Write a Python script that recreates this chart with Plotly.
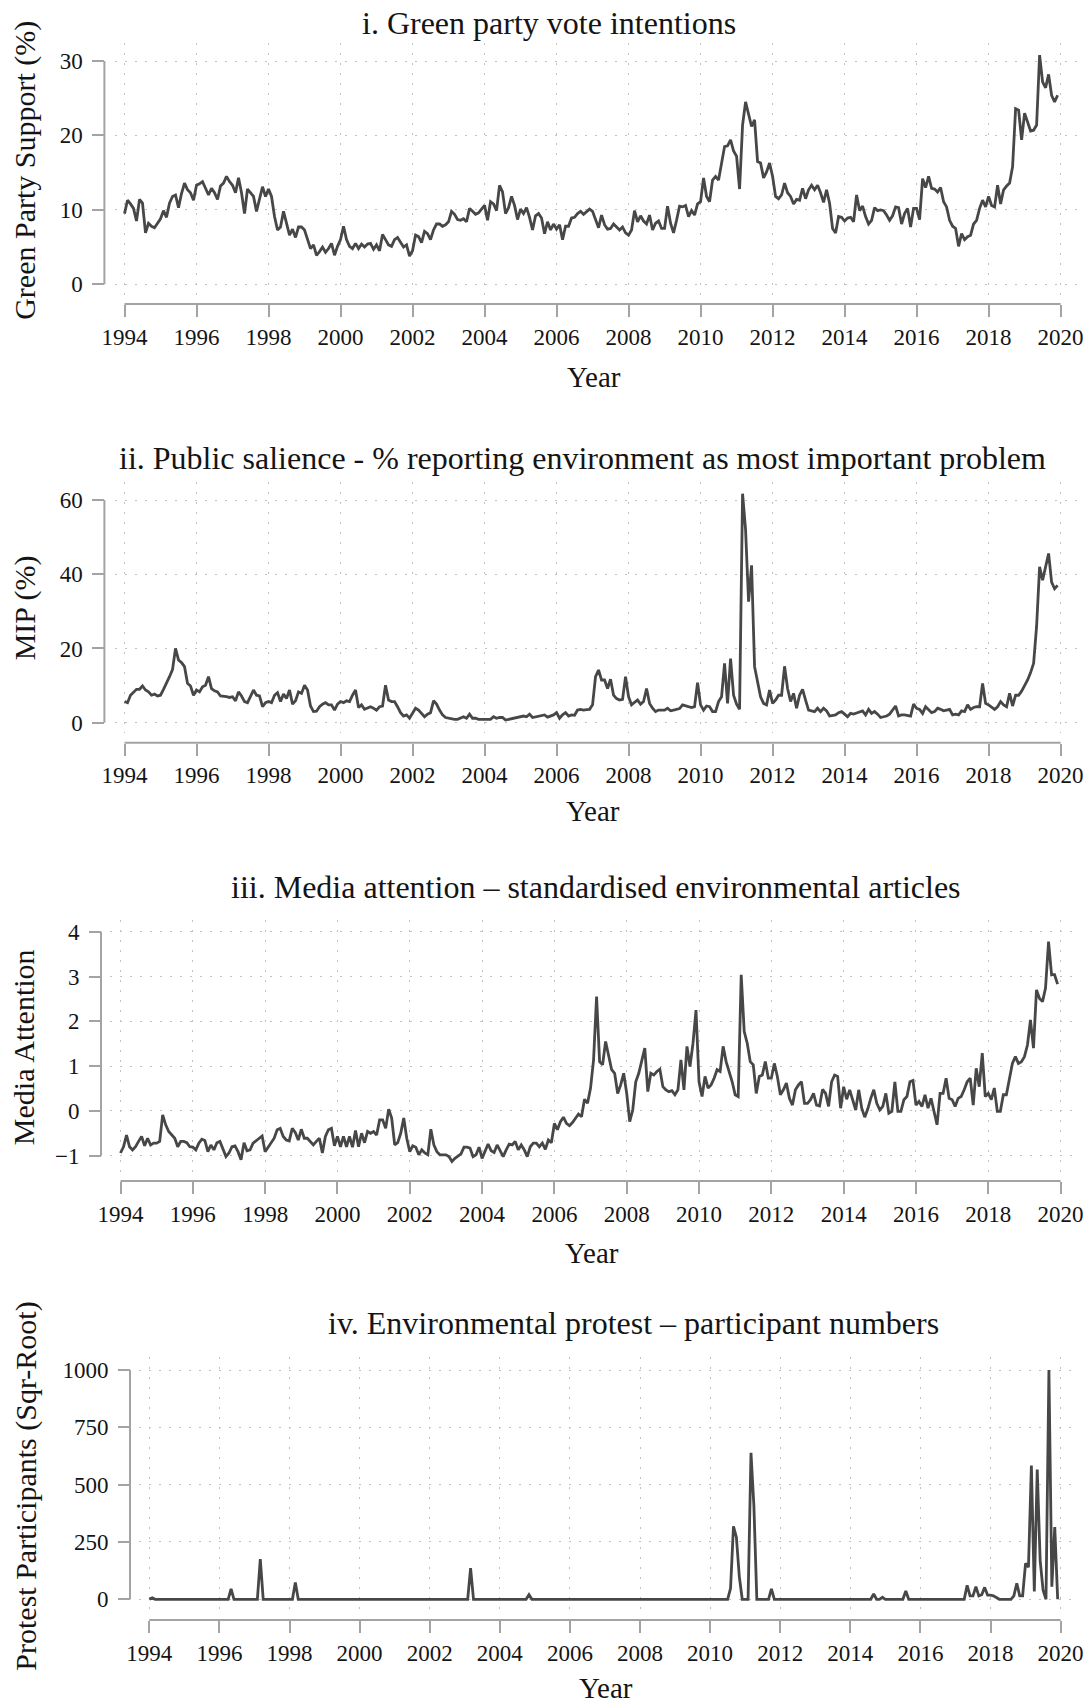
import plotly.graph_objects as go

W, H = 1092, 1707

# ---- monthly data, January 1994 to December 2019 (one row per year) ----
green_support = [
    9.5, 11.3, 10.8, 10.2, 8.5, 11.4, 10.9, 6.9, 8.2, 7.8, 7.6, 8.2,
    8.8, 9.9, 9.0, 10.9, 11.8, 12.0, 10.3, 12.2, 13.6, 12.7, 12.3, 11.3,
    13.3, 13.5, 13.8, 12.9, 12.0, 12.9, 12.3, 11.4, 13.2, 13.6, 14.5, 13.8,
    13.3, 12.3, 14.3, 12.3, 9.5, 12.8, 12.3, 11.8, 9.8, 11.4, 13.1, 11.8,
    12.8, 11.8, 9.1, 7.3, 7.7, 9.8, 8.3, 6.6, 7.4, 6.3, 7.7, 7.7,
    7.3, 6.0, 4.8, 5.3, 3.9, 4.4, 5.0, 4.3, 4.8, 5.5, 3.9, 5.1,
    6.0, 7.8, 6.0, 5.1, 4.8, 5.5, 4.8, 5.4, 5.0, 5.4, 5.5, 4.7,
    5.3, 4.5, 6.7, 6.0, 5.3, 5.1, 6.0, 6.3, 5.6, 5.0, 5.3, 3.8,
    4.5, 6.6, 6.4, 5.6, 7.1, 6.8, 6.0, 7.3, 8.1, 8.1, 7.8, 8.0,
    8.4, 9.8, 9.4, 8.7, 8.6, 8.8, 8.4, 10.2, 9.8, 9.4, 9.6, 10.1,
    10.6, 8.6, 11.1, 10.8, 9.9, 13.3, 12.4, 9.5, 10.3, 11.8, 10.6, 8.7,
    10.1, 9.5, 10.3, 9.0, 7.3, 9.2, 9.5, 8.9, 6.8, 8.4, 7.3, 8.1,
    7.4, 8.0, 6.0, 7.8, 7.8, 8.9, 9.0, 9.5, 9.8, 9.4, 9.8, 10.1,
    9.8, 8.7, 7.6, 9.3, 8.0, 7.4, 7.5, 8.1, 7.7, 7.3, 7.7, 6.9,
    6.6, 7.3, 9.9, 8.4, 9.2, 8.5, 8.1, 9.3, 7.3, 8.2, 8.5, 7.5,
    7.5, 10.5, 8.2, 6.9, 8.6, 10.5, 10.4, 10.6, 9.1, 9.9, 9.3, 10.8,
    11.1, 14.3, 11.8, 11.1, 14.0, 14.5, 14.0, 16.0, 18.5, 18.6, 19.4, 17.9,
    17.2, 12.8, 21.4, 24.5, 22.7, 21.2, 22.1, 16.5, 16.3, 14.3, 15.1, 16.3,
    14.5, 11.8, 11.5, 12.0, 13.6, 12.3, 11.8, 10.8, 11.4, 11.3, 12.9, 11.5,
    12.7, 13.3, 12.7, 13.3, 12.3, 11.0, 12.7, 10.9, 7.5, 6.9, 9.1, 9.0,
    8.5, 8.9, 9.0, 8.4, 12.0, 9.9, 10.5, 9.1, 8.1, 8.6, 10.3, 9.9,
    10.0, 9.9, 9.3, 8.6, 9.2, 10.4, 10.3, 8.1, 9.5, 10.2, 7.7, 10.2,
    10.2, 8.7, 14.2, 13.0, 14.5, 12.9, 12.8, 12.4, 13.0, 11.1, 10.4, 8.6,
    7.8, 7.5, 5.1, 6.8, 6.0, 6.4, 6.6, 8.1, 8.6, 10.2, 11.3, 10.4,
    11.8, 10.6, 10.4, 13.3, 10.8, 12.7, 13.2, 13.6, 15.8, 23.6, 23.4, 19.4,
    23.0, 21.8, 20.6, 20.7, 21.4, 30.8, 27.2, 26.4, 28.2, 25.4, 24.5, 25.4,
]

mip_share = [
    5.7, 5.4, 7.4, 8.3, 9.0, 9.0, 9.9, 8.8, 8.3, 7.4, 7.7, 7.2,
    7.4, 9.0, 10.6, 12.4, 14.3, 20.0, 16.9, 16.2, 15.1, 10.6, 9.9, 7.4,
    8.8, 8.3, 9.7, 10.1, 12.4, 9.2, 8.6, 8.3, 7.2, 7.2, 7.0, 6.8,
    7.0, 5.9, 8.3, 7.2, 5.7, 5.4, 7.0, 8.8, 7.4, 7.2, 4.3, 5.4,
    5.7, 5.4, 7.4, 8.1, 5.7, 7.7, 6.5, 8.8, 5.0, 5.9, 8.3, 7.9,
    10.1, 8.8, 4.5, 3.0, 3.1, 4.3, 5.0, 5.4, 4.8, 4.8, 3.4, 5.0,
    5.7, 5.4, 5.9, 5.7, 7.4, 8.8, 4.1, 4.8, 3.6, 3.9, 4.3, 3.9,
    3.4, 4.3, 4.5, 10.1, 6.1, 5.7, 5.7, 4.3, 2.7, 1.8, 2.1, 1.2,
    2.5, 3.9, 3.4, 2.5, 1.6, 2.3, 2.7, 5.9, 5.0, 3.4, 2.1, 1.4,
    1.2, 1.2, 0.9, 0.9, 1.2, 1.6, 1.2, 2.3, 1.2, 1.2, 0.9, 0.9,
    0.7, 0.7, 0.9, 1.6, 1.2, 1.4, 1.4, 0.7, 0.9, 1.1, 1.2, 1.6,
    1.8, 1.8, 1.6, 2.3, 1.4, 1.6, 1.8, 2.1, 2.1, 1.5, 1.8, 2.1,
    2.7, 1.2, 2.1, 2.7, 1.8, 2.1, 2.0, 3.4, 3.6, 3.4, 3.5, 3.6,
    4.8, 12.4, 14.2, 11.5, 11.5, 9.2, 11.7, 7.4, 6.5, 6.1, 6.3, 12.4,
    7.0, 4.8, 5.5, 6.1, 5.0, 5.7, 9.2, 5.2, 3.9, 3.0, 3.4, 3.4,
    3.4, 3.9, 3.2, 3.4, 3.6, 3.8, 4.8, 4.5, 4.3, 4.1, 4.3, 10.8,
    4.8, 3.4, 4.5, 4.3, 3.0, 3.0, 5.7, 7.0, 16.0, 5.2, 17.3, 7.4,
    5.0, 3.6, 61.7, 52.0, 32.6, 42.4, 15.1, 10.6, 7.0, 5.2, 4.8, 8.8,
    5.2, 6.1, 7.4, 7.4, 15.2, 9.2, 5.7, 7.9, 3.9, 7.4, 9.0, 6.1,
    3.4, 3.2, 3.0, 3.9, 3.0, 3.9, 3.2, 1.8, 2.0, 2.1, 2.7, 3.0,
    2.3, 1.6, 2.5, 2.3, 2.6, 3.0, 3.2, 2.1, 3.6, 2.5, 3.0, 2.3,
    1.4, 1.6, 1.8, 2.3, 3.4, 4.5, 1.8, 2.1, 2.1, 2.0, 1.8, 5.0,
    3.9, 3.6, 2.5, 4.3, 3.4, 2.7, 3.0, 3.9, 3.6, 3.2, 3.4, 3.6,
    2.1, 2.3, 2.1, 3.2, 3.0, 4.8, 3.6, 4.1, 4.3, 4.3, 10.6, 5.2,
    4.8, 4.1, 3.6, 4.3, 5.7, 4.8, 4.3, 7.9, 4.5, 7.4, 7.4, 8.5,
    10.0, 11.5, 13.5, 16.0, 26.0, 42.0, 38.4, 42.0, 45.6, 37.9, 36.1, 37.0,
]

media_attention = [
    -0.94, -0.80, -0.54, -0.80, -0.87, -0.80, -0.68, -0.57, -0.78, -0.61, -0.76, -0.72,
    -0.72, -0.68, -0.09, -0.31, -0.46, -0.54, -0.61, -0.80, -0.68, -0.68, -0.71, -0.80,
    -0.81, -0.87, -0.72, -0.63, -0.66, -0.91, -0.76, -0.87, -0.71, -0.68, -0.83, -1.02,
    -0.94, -0.80, -0.78, -0.91, -1.09, -0.71, -0.89, -0.87, -0.72, -0.66, -0.61, -0.56,
    -0.91, -0.81, -0.71, -0.61, -0.42, -0.39, -0.57, -0.65, -0.67, -0.39, -0.48, -0.65,
    -0.41, -0.61, -0.61, -0.68, -0.76, -0.68, -0.61, -0.94, -0.57, -0.42, -0.39, -0.78,
    -0.57, -0.80, -0.57, -0.80, -0.57, -0.81, -0.44, -0.80, -0.50, -0.71, -0.46, -0.50,
    -0.46, -0.54, -0.20, -0.20, -0.39, 0.04, -0.16, -0.76, -0.71, -0.50, -0.16, -0.61,
    -0.91, -0.78, -0.81, -0.98, -0.87, -0.94, -0.98, -0.41, -0.76, -0.91, -0.98, -0.98,
    -0.98, -1.02, -1.13, -1.06, -1.00, -0.96, -0.81, -0.81, -0.83, -1.02, -0.98, -0.81,
    -1.06, -0.91, -0.74, -0.89, -0.93, -0.76, -0.91, -1.02, -0.87, -0.74, -0.76, -0.68,
    -0.87, -0.76, -0.87, -1.02, -0.80, -0.72, -0.72, -0.80, -0.72, -0.86, -0.65, -0.71,
    -0.28, -0.42, -0.24, -0.14, -0.28, -0.33, -0.26, -0.16, -0.07, -0.13, 0.26, 0.17,
    0.51, 1.14, 2.55, 1.10, 1.03, 1.55, 1.21, 0.92, 0.84, 0.39, 0.58, 0.84,
    0.39, -0.24, 0.02, 0.65, 0.84, 1.14, 1.40, 0.43, 0.84, 0.80, 0.88, 0.93,
    0.54, 0.47, 0.43, 0.45, 0.36, 0.47, 1.14, 0.47, 1.44, 0.99, 1.51, 2.25,
    0.65, 0.32, 0.77, 0.51, 0.58, 0.73, 0.92, 0.88, 1.44, 1.10, 0.88, 0.65,
    0.36, 0.32, 3.04, 1.77, 1.51, 1.10, 1.03, 0.39, 0.77, 0.80, 1.10, 0.73,
    0.73, 1.06, 0.77, 0.36, 0.47, 0.62, 0.28, 0.13, 0.47, 0.58, 0.65, 0.17,
    0.17, 0.25, 0.39, 0.13, 0.11, 0.48, 0.39, 0.10, 0.65, 0.80, 0.77, 0.06,
    0.54, 0.26, 0.47, 0.25, 0.02, 0.47, 0.06, -0.14, 0.04, 0.28, 0.47, 0.17,
    0.02, 0.10, 0.39, -0.05, -0.01, 0.65, -0.01, -0.01, 0.25, 0.32, 0.65, 0.68,
    0.13, 0.21, 0.10, 0.36, 0.06, 0.28, -0.01, -0.31, 0.39, 0.39, 0.73, 0.28,
    0.25, 0.10, 0.28, 0.32, 0.47, 0.65, 0.73, 0.13, 0.95, 0.54, 1.29, 0.32,
    0.39, 0.25, 0.51, -0.01, -0.01, 0.36, 0.36, 0.69, 1.06, 1.21, 1.06, 1.10,
    1.21, 1.47, 2.03, 1.40, 2.70, 2.51, 2.44, 2.74, 3.78, 3.04, 3.04, 2.83,
]

# protest participants (square root); months not listed had no recorded protest
protest_events = {
    (1994, 2): 6, (1996, 5): 45, (1997, 3): 175, (1998, 3): 73,
    (2003, 3): 136, (2004, 11): 20,
    (2010, 8): 48, (2010, 9): 318, (2010, 10): 271, (2010, 11): 99,
    (2011, 3): 639, (2011, 4): 405, (2011, 10): 45,
    (2014, 9): 23, (2014, 12): 9, (2015, 8): 36,
    (2017, 5): 61, (2017, 6): 15, (2017, 7): 15, (2017, 8): 55, (2017, 9): 15,
    (2017, 10): 20, (2017, 11): 52, (2017, 12): 18,
    (2018, 1): 18, (2018, 2): 15, (2018, 3): 8,
    (2018, 9): 15, (2018, 10): 70, (2018, 11): 15, (2018, 12): 15,
    (2019, 1): 157, (2019, 2): 140, (2019, 3): 583, (2019, 4): 34,
    (2019, 5): 566, (2019, 6): 170, (2019, 7): 40, (2019, 9): 1000,
    (2019, 10): 55, (2019, 11): 315,
}

years = list(range(1994, 2020))
months = [y + m / 12 for y in years for m in range(12)]
protest_sqrt = [protest_events.get((y, m + 1), 0) for y in years for m in range(12)]

year_ticks = list(range(1994, 2021, 2))

# ---- panel layout (page pixels) ----
panels = [
    dict(values=green_support, title="i. Green party vote intentions",
         ytitle="Green Party Support (%)", yticks=[0, 10, 20, 30],
         box=(115, 1082, 43.3, 295), x_px=(124.5, 1060.6), y_px=(284.3, 61.0),
         xline=304, yline=104.4, title_at=(549, 22.7), ytitle_at=(25, 170.8),
         year_at=(593.7, 377)),
    dict(values=mip_share,
         title="ii. Public salience - % reporting environment as most important problem",
         ytitle="MIP (%)", yticks=[0, 20, 40, 60],
         box=(115, 1082, 481.7, 733.3), x_px=(124.5, 1060.6), y_px=(722.7, 500.0),
         xline=742.7, yline=104.4, title_at=(582.9, 458.3), ytitle_at=(25, 608.3),
         year_at=(593, 811)),
    dict(values=media_attention,
         title="iii. Media attention \u2013 standardised environmental articles",
         ytitle="Media Attention", yticks=[-1, 0, 1, 2, 3, 4],
         box=(109.7, 1077, 920, 1171.7), x_px=(120.5, 1060.6), y_px=(1155.7, 931.7),
         xline=1181, yline=101, title_at=(595.6, 886.7), ytitle_at=(23.7, 1047.5),
         year_at=(591.7, 1252.5)),
    dict(values=protest_sqrt,
         title="iv. Environmental protest \u2013 participant numbers",
         ytitle="Protest Participants (Sqr-Root)", yticks=[0, 250, 500, 750, 1000],
         box=(139.3, 1077, 1356.7, 1610), x_px=(149.3, 1060.6), y_px=(1599.3, 1370.0),
         xline=1620, yline=130, title_at=(633, 1323.3), ytitle_at=(26, 1486.7),
         year_at=(605.7, 1688)),
]

FONT = "Liberation Serif"
LINE = "#474747"
AXIS = "#a3a3a3"
GRID = "#c2c2c2"
TEXT = "#141414"


def fx(p):
    return p / W


def fy(p):
    return 1 - p / H


fig = go.Figure()
layout = dict(template="none", width=W, height=H, autosize=False,
              margin=dict(l=0, r=0, t=0, b=0, pad=0),
              paper_bgcolor="white", plot_bgcolor="white", showlegend=False,
              font=dict(family=FONT, color=TEXT))
shapes, annotations = [], []

for i, p in enumerate(panels, start=1):
    xa, ya = f"xaxis{i}", f"yaxis{i}"
    xr, yr = f"x{i}", f"y{i}"
    bx0, bx1, by0, by1 = p["box"]

    # data ranges from the pixel extent of the plot box
    x_lo_px, x_hi_px = p["x_px"]
    per_year = (x_hi_px - x_lo_px) / 26
    x_range = [1994 + (bx0 - x_lo_px) / per_year, 2020 + (bx1 - x_hi_px) / per_year]
    y_lo_px, y_hi_px = p["y_px"]
    t_lo, t_hi = p["yticks"][0], p["yticks"][-1]
    per_unit = (y_lo_px - y_hi_px) / (t_hi - t_lo)
    y_range = [t_lo - (by1 - y_lo_px) / per_unit, t_hi + (y_hi_px - by0) / per_unit]

    fig.add_trace(go.Scatter(x=months, y=p["values"], mode="lines",
                             line=dict(color=LINE, width=2.8),
                             xaxis=xr, yaxis=yr, hoverinfo="skip"))

    axis_common = dict(ticks="outside", ticklen=12, tickwidth=2, tickcolor=AXIS,
                       tickfont=dict(family=FONT, size=23, color=TEXT),
                       showline=False, zeroline=False, automargin=False,
                       showgrid=True, gridcolor=GRID, gridwidth=1.4,
                       griddash="2px,8px", anchor="free")
    layout[xa] = dict(domain=[fx(bx0), fx(bx1)], range=x_range,
                      position=fy(p["xline"]), tickvals=year_ticks,
                      ticklabelstandoff=0, **axis_common)
    layout[ya] = dict(domain=[fy(by1), fy(by0)], range=y_range,
                      position=fx(p["yline"]), tickvals=p["yticks"],
                      ticklabelstandoff=5, **axis_common)

    # axis lines span only the labelled tick range
    shapes.append(dict(type="line", xref=xr, yref="paper", x0=1994, x1=2020,
                       y0=fy(p["xline"]), y1=fy(p["xline"]),
                       line=dict(color=AXIS, width=2)))
    shapes.append(dict(type="line", xref="paper", yref=yr,
                       x0=fx(p["yline"]), x1=fx(p["yline"]), y0=t_lo, y1=t_hi,
                       line=dict(color=AXIS, width=2)))

    tx, ty = p["title_at"]
    annotations.append(dict(text=p["title"], xref="paper", yref="paper",
                            x=fx(tx), y=fy(ty), xanchor="center", yanchor="middle",
                            showarrow=False, font=dict(family=FONT, size=32, color=TEXT)))
    vx, vy = p["ytitle_at"]
    annotations.append(dict(text=p["ytitle"], xref="paper", yref="paper",
                            x=fx(vx), y=fy(vy), xanchor="center", yanchor="middle",
                            textangle=-90, showarrow=False,
                            font=dict(family=FONT, size=30, color=TEXT)))
    yx, yy = p["year_at"]
    annotations.append(dict(text="Year", xref="paper", yref="paper",
                            x=fx(yx), y=fy(yy), xanchor="center", yanchor="middle",
                            showarrow=False, font=dict(family=FONT, size=29, color=TEXT)))

layout["shapes"] = shapes
layout["annotations"] = annotations
fig.update_layout(**layout)
fig.write_html("out.html")
